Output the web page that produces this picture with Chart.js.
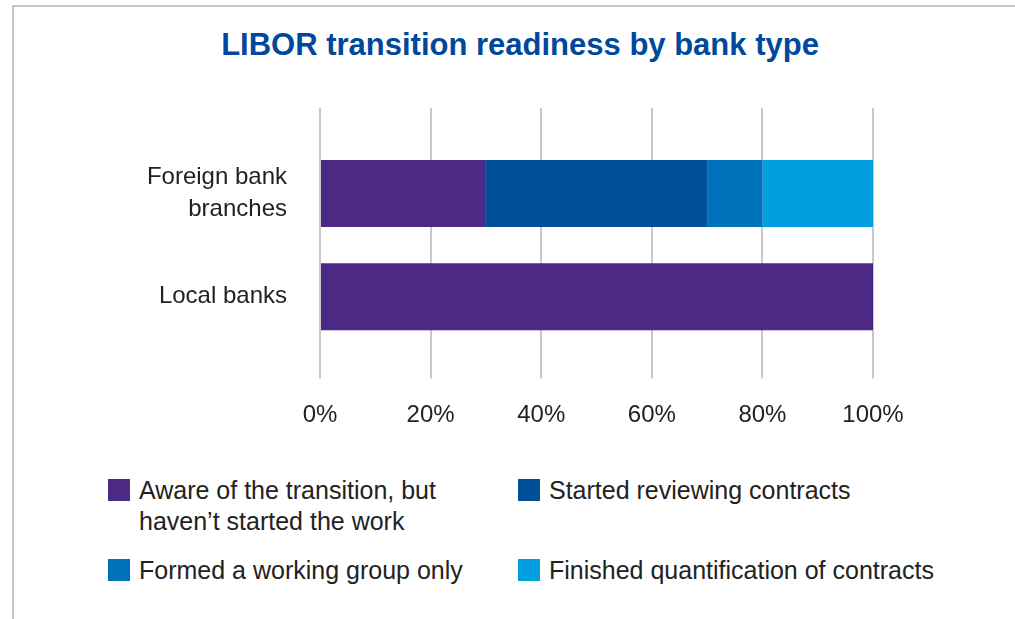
<!DOCTYPE html>
<html>
<head>
<meta charset="utf-8">
<script src="https://cdn.jsdelivr.net/npm/chart.js@4"></script>
<style>
  html, body { margin: 0; padding: 0; background: #fff; }
  body { width: 1015px; height: 619px; position: relative; overflow: hidden;
         font-family: "Liberation Sans", Arial, sans-serif; }
  #frameTop { position: absolute; left: 12px; top: 5px; width: 1003px; height: 2px; background: #c6c6c6; }
  #frameLeft { position: absolute; left: 12px; top: 5px; width: 2px; height: 614px; background: #c6c6c6; }
  #chartTitle { position: absolute; left: 520px; top: 27px; transform: translateX(-50%);
                white-space: nowrap; font-weight: bold; font-size: 31px; line-height: 36px; color: #00489b; }
  #chartWrap { position: absolute; left: 0; top: 0; width: 1015px; height: 463px; }
  #legend { position: absolute; left: 0; top: 0; }
  .legend-item { position: absolute; display: flex; align-items: flex-start; color: #222; font-size: 25px; line-height: 31px; }
  .legend-box { width: 22px; height: 22px; margin-top: 4px; margin-right: 9px; flex: none; }
  .legend-text { width: 330px; }
  .legend-item.wide .legend-text { width: 460px; }
</style>
</head>
<body>
<div id="frameTop"></div>
<div id="frameLeft"></div>
<div id="chartTitle">LIBOR transition readiness by bank type</div>
<div id="chartWrap"><canvas id="barChart"></canvas></div>
<div id="legend"></div>
<script>
  // values (% of banks)
  var categories = [["Foreign bank", "branches"], "Local banks"];
  var seriesNames = [
    "Aware of the transition, but haven\u2019t started the work",
    "Started reviewing contracts",
    "Formed a working group only",
    "Finished quantification of contracts",
  ];
  var awareValues = [30, 100];
  var reviewingValues = [40, 0];
  var workingGroupValues = [10, 0];
  var quantifiedValues = [20, 0];
  var seriesColors = ["#4b2985", "#004f99", "#0072bc", "#009fdf"];

  var gridColor = "#c8c8c8";
  var textColor = "#222222";
  var fontFamily = '"Liberation Sans", Arial, sans-serif';

  // where each legend entry sits (two columns, two rows)
  var legendSpots = [
    { left: 108, top: 475, wide: false },
    { left: 518, top: 475, wide: true },
    { left: 108, top: 555, wide: false },
    { left: 518, top: 555, wide: true },
  ];

  function makeDataset(i, values) {
    return {
      label: seriesNames[i],
      data: values,
      backgroundColor: seriesColors[i],
      borderWidth: 0,
      categoryPercentage: 1,
      barPercentage: 0.65,
    };
  }

  var ctx = document.getElementById("barChart").getContext("2d");
  var chart = new Chart(ctx, {
    type: "bar",
    data: {
      labels: categories,
      datasets: [
        makeDataset(0, awareValues),
        makeDataset(1, reviewingValues),
        makeDataset(2, workingGroupValues),
        makeDataset(3, quantifiedValues),
      ],
    },
    options: {
      indexAxis: "y",
      responsive: true,
      maintainAspectRatio: false,
      animation: false,
      layout: {
        padding: { left: 14, right: 142, top: 108, bottom: 10 },
      },
      plugins: {
        legend: { display: false },
        tooltip: { enabled: false },
        title: { display: false },
      },
      scales: {
        x: {
          stacked: true,
          min: 0,
          max: 100,
          position: "bottom",
          ticks: {
            stepSize: 20,
            padding: 23,
            color: textColor,
            font: { family: fontFamily, size: 24 },
            callback: function (value) {
              return value + "%";
            },
          },
          grid: {
            color: gridColor,
            lineWidth: 2,
            drawTicks: true,
            tickLength: 30,
          },
          border: { display: false },
        },
        // only used to push the grid lines above the bars
        xTop: {
          axis: "x",
          min: 0,
          max: 100,
          position: "top",
          ticks: { stepSize: 20, display: false },
          grid: {
            color: gridColor,
            lineWidth: 2,
            drawOnChartArea: false,
            drawTicks: true,
            tickLength: 34,
          },
          border: { display: false },
        },
        y: {
          stacked: true,
          ticks: {
            padding: 33,
            color: textColor,
            font: { family: fontFamily, size: 24, lineHeight: 1.33 },
          },
          grid: { display: false, drawTicks: false },
          border: { display: false },
          afterFit: function (scale) {
            scale.width = 306;
          },
        },
      },
    },
  });

  function buildLegend(chart) {
    var holder = document.getElementById("legend");
    holder.innerHTML = "";
    var items = Chart.defaults.plugins.legend.labels.generateLabels(chart);
    items.forEach(function (item, i) {
      var spot = legendSpots[i];
      var row = document.createElement("div");
      row.className = spot.wide ? "legend-item wide" : "legend-item";
      row.style.left = spot.left + "px";
      row.style.top = spot.top + "px";
      var box = document.createElement("span");
      box.className = "legend-box";
      box.style.background = item.fillStyle;
      var label = document.createElement("span");
      label.className = "legend-text";
      label.textContent = item.text;
      row.appendChild(box);
      row.appendChild(label);
      holder.appendChild(row);
    });
  }

  buildLegend(chart);
</script>
</body>
</html>
